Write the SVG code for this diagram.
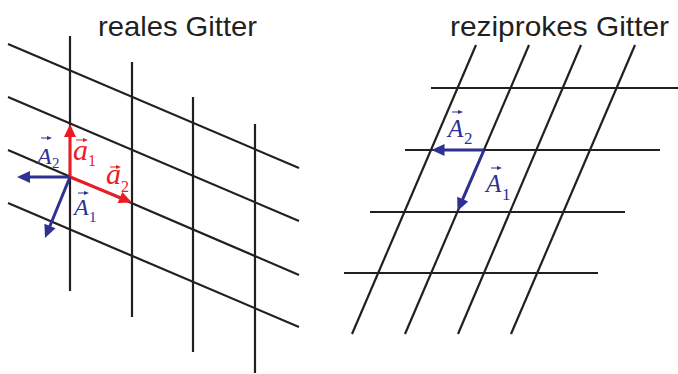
<svg xmlns="http://www.w3.org/2000/svg" width="678" height="374" viewBox="0 0 678 374">
<style>
.grid{stroke:#231f20;stroke-width:2.2;fill:none}
.red{stroke:#ed1c24;stroke-width:3;fill:none}
.blue{stroke:#2e3192;stroke-width:3;fill:none}
.redf{fill:#ed1c24}
.bluef{fill:#2e3192}
.title{font-family:"Liberation Sans",Arial,sans-serif;font-size:28px;fill:#231f20}
.m{font-family:"Liberation Serif","Times New Roman",serif;font-style:italic}
.s{font-family:"Liberation Serif","Times New Roman",serif}
.vr{stroke:#ed1c24;stroke-width:1;fill:none}
.vb{stroke:#2e3192;stroke-width:1;fill:none}
</style>
<rect width="678" height="374" fill="#ffffff"/>
<g id="titles">
<text class="title" x="98" y="36" textLength="159" lengthAdjust="spacingAndGlyphs">reales Gitter</text>
<text class="title" x="450" y="36" textLength="219" lengthAdjust="spacingAndGlyphs">reziprokes Gitter</text>
</g>
<g id="real-lattice" class="grid">
<line x1="70" y1="36" x2="70" y2="291"/>
<line x1="132" y1="62" x2="132" y2="317"/>
<line x1="193" y1="97" x2="193" y2="352"/>
<line x1="255" y1="124" x2="255" y2="373"/>
<line x1="8" y1="44" x2="299" y2="168"/>
<line x1="8" y1="97" x2="299" y2="221"/>
<line x1="8" y1="150" x2="299" y2="275"/>
<line x1="8" y1="203" x2="299" y2="327"/>
</g>
<g id="reciprocal-lattice" class="grid">
<line x1="431" y1="88" x2="678" y2="88"/>
<line x1="405" y1="150" x2="660" y2="150"/>
<line x1="370" y1="212" x2="625" y2="212"/>
<line x1="344" y1="273" x2="598" y2="273"/>
<line x1="476" y1="45" x2="352" y2="334"/>
<line x1="529" y1="45" x2="405" y2="334"/>
<line x1="581" y1="45" x2="458" y2="334"/>
<line x1="635" y1="45" x2="511" y2="334"/>
</g>
<g id="connectors">
<g id="vec-a1">
<line class="red" x1="70" y1="177" x2="70" y2="134"/>
<polygon class="redf" points="70,124 64,137 76,137"/>
</g>
<g id="vec-a2">
<line class="red" x1="70" y1="177" x2="122.7" y2="198.7"/>
<polygon class="redf" points="132,202.5 117.7,203 122.3,192"/>
</g>
<g id="vec-A2-real">
<line class="blue" x1="70" y1="177" x2="27" y2="177"/>
<polygon class="bluef" points="17,177 30,171 30,183"/>
</g>
<g id="vec-A1-real">
<line class="blue" x1="70" y1="177" x2="48.8" y2="228.7"/>
<polygon class="bluef" points="45,238 55.5,228.3 44.4,223.7"/>
</g>
<g id="vec-A2-recip">
<line class="blue" x1="484" y1="150" x2="441" y2="150"/>
<polygon class="bluef" points="431.5,150 444.5,144 444.5,156"/>
</g>
<g id="vec-A1-recip">
<line class="blue" x1="484" y1="150" x2="461.5" y2="201.8"/>
<polygon class="bluef" points="457.5,211 468.2,201.5 457.2,196.7"/>
</g>
</g>
<g id="label-a1" fill="#ed1c24">
<text class="m" x="73" y="160" font-size="30">a</text>
<text class="s" x="88" y="166" font-size="16">1</text>
<line class="vr" x1="76" y1="140" x2="85" y2="140"/><polygon points="88,140 83,138 83,142"/>
</g>
<g id="label-a2" fill="#ed1c24">
<text class="m" x="106" y="184" font-size="30">a</text>
<text class="s" x="121" y="192" font-size="16">2</text>
<line class="vr" x1="110" y1="167" x2="118" y2="167"/><polygon points="121,167 116,165 116,169"/>
</g>
<g id="label-A2-real" fill="#2e3192">
<text class="m" x="37" y="164" font-size="24">A</text>
<text class="s" x="52" y="168" font-size="15">2</text>
<line class="vb" x1="41" y1="138" x2="49" y2="138"/><polygon points="52,138 47,136 47,140"/>
</g>
<g id="label-A1-real" fill="#2e3192">
<text class="m" x="74" y="215" font-size="24">A</text>
<text class="s" x="89" y="222" font-size="15">1</text>
<line class="vb" x1="78" y1="193" x2="86" y2="193"/><polygon points="89,193 84,191 84,195"/>
</g>
<g id="label-A2-recip" fill="#2e3192">
<text class="m" x="448" y="137" font-size="25">A</text>
<text class="s" x="464" y="144" font-size="17">2</text>
<line class="vb" x1="452" y1="112" x2="460" y2="112"/><polygon points="463,112 458,110 458,114"/>
</g>
<g id="label-A1-recip" fill="#2e3192">
<text class="m" x="486" y="192" font-size="25">A</text>
<text class="s" x="502" y="200" font-size="17">1</text>
<line class="vb" x1="491" y1="168" x2="499" y2="168"/><polygon points="502,168 497,166 497,170"/>
</g>
</svg>
